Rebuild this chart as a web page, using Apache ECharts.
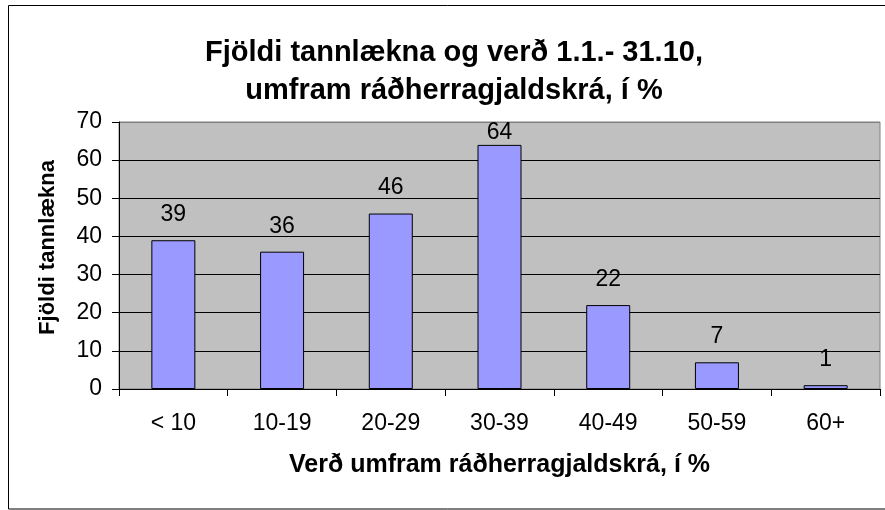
<!DOCTYPE html>
<html>
<head>
<meta charset="utf-8">
<script src="https://cdn.jsdelivr.net/npm/echarts@6/dist/echarts.min.js"></script>
<style>
html,body{margin:0;padding:0;background:#fff;}
#c{width:885px;height:510px;}
</style>
</head>
<body>
<div id="c"></div>
<script>
const categories = ['< 10', '10-19', '20-29', '30-39', '40-49', '50-59', '60+'];
const counts = [39, 36, 46, 64, 22, 7, 1];
const yTicks = [0, 10, 20, 30, 40, 50, 60, 70];

const chart = echarts.init(document.getElementById('c'), null, {renderer: 'canvas'});
const FONT = '"Liberation Sans", Arial, sans-serif';
const yMax = yTicks[yTicks.length - 1];

const splitColors = yTicks.map((t, i) => i === yTicks.length - 1 ? '#808080' : '#000000');

chart.setOption({
  animation: false,
  backgroundColor: '#ffffff',
  title: {
    text: 'Fjöldi tannlækna og verð 1.1.- 31.10,\numfram ráðherragjaldskrá, í %',
    left: 449, textAlign: 'center', top: 29,
    textStyle: {fontFamily: FONT, fontWeight: 'bold', fontSize: 29, lineHeight: 38, color: '#000'}
  },
  graphic: [{
    type: 'rect', shape: {x: 8.5, y: 5.5, width: 900, height: 503.5},
    style: {fill: 'none', stroke: '#000', lineWidth: 1}, silent: true, z: 100
  }],
  grid: {left: 119, right: 5, top: 122, bottom: 121, show: true, backgroundColor: '#c0c0c0', borderColor: '#808080', borderWidth: 1},
  xAxis: {
    type: 'category', data: categories,
    name: 'Verð umfram ráðherragjaldskrá, í %', nameLocation: 'middle', nameGap: 64,
    nameTextStyle: {fontFamily: FONT, fontWeight: 'bold', fontSize: 25, color: '#000'},
    axisLine: {lineStyle: {color: '#000', width: 1}},
    axisTick: {show: true, length: 7, lineStyle: {color: '#000'}},
    axisLabel: {fontFamily: FONT, fontSize: 23, color: '#000', margin: 23},
    splitLine: {show: false}
  },
  yAxis: {
    type: 'value', min: 0, max: yMax, interval: 10,
    name: 'Fjöldi tannlækna', nameLocation: 'middle', nameGap: 60,
    nameTextStyle: {fontFamily: FONT, fontWeight: 'bold', fontSize: 22, color: '#000', padding: [0, 0, 0, 16]},
    axisLine: {show: true, lineStyle: {color: '#000', width: 1}},
    axisTick: {show: true, length: 7, lineStyle: {color: '#000'}},
    axisLabel: {fontFamily: FONT, fontSize: 23, color: '#000', margin: 17},
    splitLine: {show: true, lineStyle: {color: splitColors, width: 1}}
  },
  series: [{
    type: 'bar', barWidth: 44,
    data: counts.map(v => ({value: v, label: {distance: v / yMax > 0.85 ? 1 : 14}})),
    itemStyle: {color: '#9999ff', borderColor: '#000', borderWidth: 1},
    label: {show: true, position: 'top', fontFamily: FONT, fontSize: 23, color: '#000'}
  }]
});
</script>
</body>
</html>
